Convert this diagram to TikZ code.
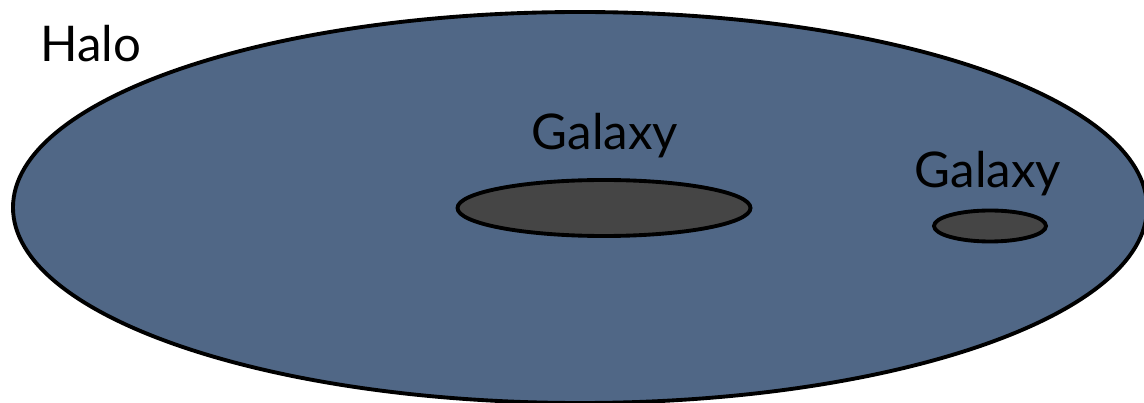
\documentclass[tikz,border=0pt]{standalone}
\usepackage{fontspec}
\setmainfont{Lato}
\usepackage{tikz}
\usetikzlibrary{shapes.geometric, positioning}
\definecolor{halofill}{RGB}{80,103,134}
\definecolor{galaxyfill}{RGB}{69,69,69}

\begin{document}
\begin{tikzpicture}[
    every node/.style={font=\fontsize{28}{32}\selectfont},
    halo/.style={ellipse, draw, line width=2.2pt, fill=halofill, inner sep=0pt},
    galaxy/.style={ellipse, draw, line width=2.2pt, fill=galaxyfill, inner sep=0pt},
    tag/.style={anchor=base, inner sep=0pt}
]
\useasboundingbox (0,0) rectangle (22.88,-8.06);
\clip (0,0) rectangle (22.88,-8.06);

% Halo
\node[halo, minimum width=22.68cm, minimum height=7.82cm] (halo) at (11.60,-4.15) {};

% Galaxies
\node[galaxy, minimum width=5.86cm, minimum height=1.12cm] (gal1) at (12.08,-4.16) {};
\node[galaxy, minimum width=2.24cm, minimum height=0.62cm] (gal2) at (19.80,-4.52) {};

% Labels
\node[tag, anchor=base west] (halolbl) at (0.80,-1.24) {Halo};
\node[tag] (gal1lbl) at (12.10,-3.00) {Galaxy};
\node[tag] (gal2lbl) at (19.76,-3.76) {Galaxy};

\end{tikzpicture}
\end{document}
